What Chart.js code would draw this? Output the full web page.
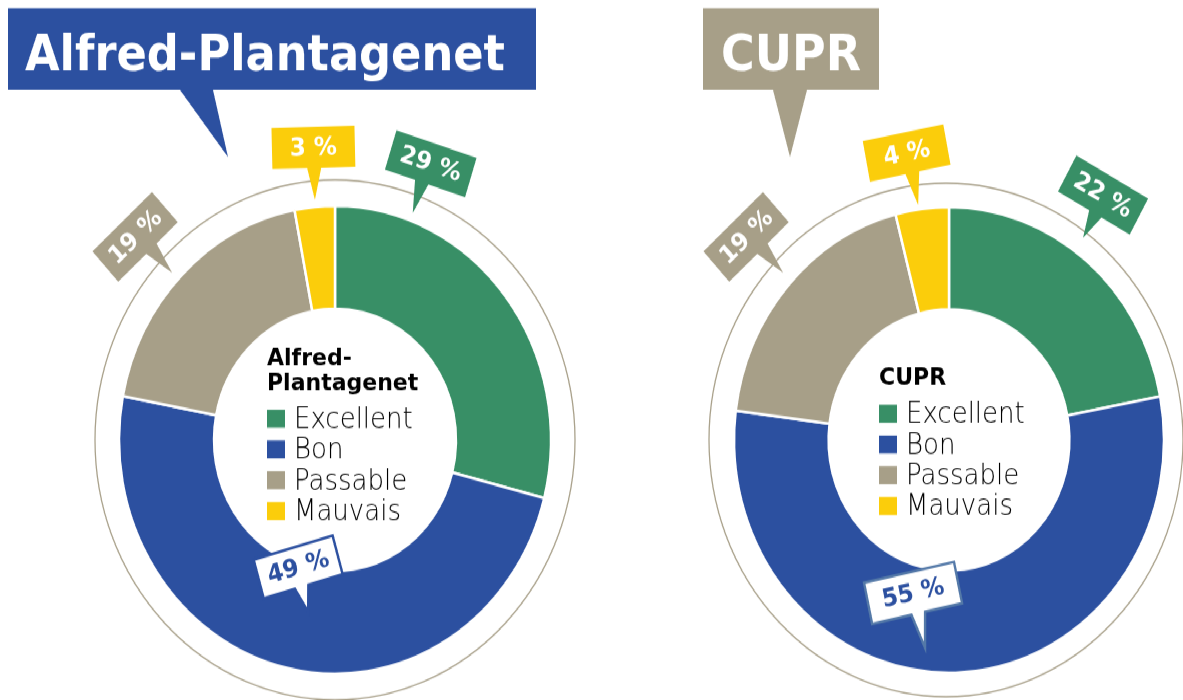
<!DOCTYPE html>
<html><head><meta charset="utf-8">
<script src="https://cdn.jsdelivr.net/npm/chart.js@4.4.1/dist/chart.umd.min.js"></script>
<style>
html,body{margin:0;padding:0;background:#fff;width:1183px;height:700px;overflow:hidden;}
#wrap{position:absolute;left:0;top:0;width:1183px;height:646px;transform:scaleY(1.0836);transform-origin:0 0;}
canvas{position:absolute;top:0;}
#c1{left:0;}
#c2{left:640px;}
</style></head><body>
<div id="wrap"><canvas id="c1" width="640" height="646"></canvas><canvas id="c2" width="543" height="646"></canvas></div>
<script>
// ---- data ----
const categories = ['Excellent', 'Bon', 'Passable', 'Mauvais'];
const campuses = ['Alfred-Plantagenet', 'CUPR'];
const alfredValues = [29, 49, 19, 3];
const cuprValues = [22, 55, 19, 4];

// ---- styles ----
const colors = ['#388f66', '#2c50a0', '#a79f88', '#fbcd0b'];
const FONT_BOLD = '"DejaVu Sans", "Open Sans", sans-serif';
const FONT_LIGHT = '"DejaVu Sans", "Lato", sans-serif';

function fitText(ctx, text, x, y, width) {
  const m = ctx.measureText(text).width;
  ctx.save();
  ctx.translate(x, y);
  ctx.scale(width / m, 1);
  ctx.fillText(text, 0, 0);
  ctx.restore();
}

const decorPlugin = {
  id: 'decor',
  beforeDatasetsDraw(chart, args, o) {
    const a0 = chart.getDatasetMeta(0).data[0];
    const ctx = chart.ctx;
    ctx.save();
    ctx.strokeStyle = '#aaa28c';
    ctx.lineWidth = 1.3;
    ctx.beginPath();
    ctx.arc(a0.x + o.ringDx, a0.y, o.ringR, 0, Math.PI * 2);
    ctx.stroke();
    ctx.restore();
  },
  afterDatasetsDraw(chart, args, o) {
    const ctx = chart.ctx;
    const meta = chart.getDatasetMeta(0);
    const cx = meta.data[0].x, cy = meta.data[0].y;
    const ds = chart.data.datasets[0];
    const off = o.offsetX;

    // ---- title box with tail ----
    const t = o.title;
    ctx.save();
    ctx.fillStyle = t.color;
    ctx.beginPath();
    ctx.moveTo(t.x0 - off, t.y0);
    ctx.lineTo(t.x1 - off, t.y0);
    ctx.lineTo(t.x1 - off, t.y1);
    ctx.lineTo(t.tail[1] - off, t.y1);
    ctx.lineTo(t.tail[2] - off, t.tail[3]);
    ctx.lineTo(t.tail[0] - off, t.y1);
    ctx.lineTo(t.x0 - off, t.y1);
    ctx.closePath();
    ctx.fill();
    ctx.fillStyle = '#fff';
    ctx.font = 'bold 47px ' + FONT_BOLD;
    ctx.textBaseline = 'alphabetic';
    fitText(ctx, o.name, t.tx0 - off, t.base, t.tx1 - t.tx0);
    ctx.restore();

    // ---- center legend ----
    const L = o.legend;
    ctx.save();
    ctx.fillStyle = '#000';
    ctx.textBaseline = 'alphabetic';
    ctx.font = 'bold 22px ' + FONT_BOLD;
    const lines = o.name.includes('-') ? [o.name.slice(0, o.name.indexOf('-') + 1), o.name.slice(o.name.indexOf('-') + 1)] : [o.name];
    let yb = cy + L.titleY;
    const lx = cx + L.dx;
    lines.forEach((ln, i) => {
      ctx.fillText(ln, lx, yb + i * 23.1);
    });
    let sqTop = yb + (lines.length - 1) * 23.1 + 18.2;
    ctx.font = '200 26px ' + FONT_LIGHT;
    chart.data.labels.forEach((lab, i) => {
      const y = sqTop + i * 28.4;
      ctx.fillStyle = ds.backgroundColor[i];
      ctx.fillRect(lx, y, 18, 16.6);
      ctx.fillStyle = '#000';
      ctx.fillText(lab, lx + 27, y + 16.6);
    });
    ctx.restore();

    // ---- callouts ----
    meta.data.forEach((arc, i) => {
      const c = o.callouts[i];
      const a = arc.startAngle + c.f * (arc.endAngle - arc.startAngle);
      const tx = cx + c.r * Math.cos(a), ty = cy + c.r * Math.sin(a);
      const bx = tx + c.dx, by = ty + c.dy;
      const rot = c.rot * Math.PI / 180;
      const rx = tx - bx, ry = ty - by;
      const lxp = rx * Math.cos(rot) + ry * Math.sin(rot);
      const lyp = -rx * Math.sin(rot) + ry * Math.cos(rot);
      const w = c.w, h = c.h;
      const base = Math.max(-w / 2 + 9, Math.min(w / 2 - 9, lxp));
      ctx.save();
      ctx.translate(bx, by);
      ctx.rotate(rot);
      ctx.beginPath();
      ctx.moveTo(-w / 2, -h / 2);
      ctx.lineTo(w / 2, -h / 2);
      ctx.lineTo(w / 2, h / 2);
      ctx.lineTo(base + 7, h / 2);
      ctx.lineTo(lxp, lyp);
      ctx.lineTo(base - 7, h / 2);
      ctx.lineTo(-w / 2, h / 2);
      ctx.closePath();
      ctx.fillStyle = c.outline ? '#ffffff' : ds.backgroundColor[i];
      ctx.fill();
      if (c.outline) {
        ctx.strokeStyle = c.outline;
        ctx.lineWidth = 2.4;
        ctx.lineJoin = 'miter';
        ctx.stroke();
      }
      ctx.fillStyle = c.outline ? ds.backgroundColor[i] : '#ffffff';
      ctx.font = 'bold 23px ' + FONT_BOLD;
      ctx.textAlign = 'center';
      ctx.textBaseline = 'middle';
      ctx.fillText(ds.data[i] + ' %', 0, 1);
      ctx.restore();
    });
  }
};

function makeChart(id, name, values, cfg) {
  return new Chart(document.getElementById(id), {
    type: 'doughnut',
    data: {
      labels: categories,
      datasets: [{
        data: values,
        backgroundColor: colors,
        borderColor: '#ffffff',
        borderWidth: 2.5,
        hoverOffset: 0
      }]
    },
    options: {
      responsive: false,
      animation: false,
      events: [],
      radius: cfg.radius,
      cutout: '56%',
      layout: { padding: { left: cfg.padLeft, right: 0, top: 166, bottom: 0 } },
      plugins: {
        legend: { display: false },
        tooltip: { enabled: false },
        decor: Object.assign({ name: name }, cfg.decor)
      }
    },
    plugins: [decorPlugin]
  });
}

makeChart('c1', campuses[0], alfredValues, {
  radius: 216, padLeft: 30,
  decor: {
    offsetX: 0, ringDx: 0, ringR: 240,
    title: { color: '#2c50a0', x0: 8, x1: 536, y0: 7.4, y1: 83.1, tail: [180, 213, 228, 144.9], tx0: 25, tx1: 505, base: 64.6 },
    legend: { dx: -68, titleY: -69.2 },
    callouts: [
      { f: 0.195, r: 223.5, dx: 18, dy: -45.3, rot: 17.6, w: 84, h: 38 },
      { f: 0.483, r: 161, dx: -10, dy: -41.5, rot: -15.7, w: 82, h: 37, outline: '#2c50a0' },
      { f: 0.477, r: 224.3, dx: -37, dy: -33.2, rot: -42.7, w: 81, h: 38 },
      { f: 0.52, r: 222.3, dx: -1.5, dy: -48.5, rot: -1.4, w: 83, h: 38 }
    ]
  }
});

makeChart('c2', campuses[1], cuprValues, {
  radius: 215, padLeft: 75,
  decor: {
    offsetX: 640, ringDx: -3, ringR: 237,
    title: { color: '#a79f88', x0: 703, x1: 879, y0: 7.4, y1: 83.1, tail: [773, 807, 790, 144.9], tx0: 721, tx1: 861, base: 64.6 },
    legend: { dx: -70, titleY: -50.7 },
    callouts: [
      { f: 0.451, r: 229.6, dx: 20, dy: -39.6, rot: 29, w: 82, h: 38 },
      { f: 0.545, r: 193.5, dx: -12, dy: -50.8, rot: -12, w: 92, h: 39, outline: '#5479a8' },
      { f: 0.522, r: 226.5, dx: -37, dy: -33.2, rot: -42.7, w: 81, h: 38 },
      { f: 0.4375, r: 219, dx: -11.5, dy: -48, rot: -11, w: 82, h: 38 }
    ]
  }
});
</script>
</body></html>
